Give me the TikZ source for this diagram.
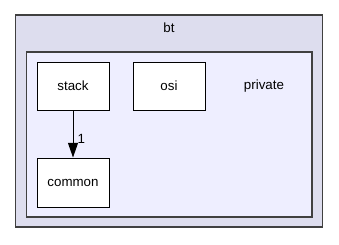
\documentclass[tikz,border=0pt]{standalone}
\usepackage{fontspec}
\setmainfont{Liberation Sans}
\usetikzlibrary{arrows.meta}
\definecolor{outerfill}{HTML}{DDDDEE}
\definecolor{innerfill}{HTML}{EEEEFF}
\definecolor{frame}{HTML}{404040}
\begin{document}
\begin{tikzpicture}[x=0.75pt,y=-0.75pt,
  cluster/.style={draw=frame,line width=0.9pt},
  lbl/.style={font=\fontsize{10}{12}\selectfont,inner sep=0pt},
  dirbox/.style={lbl,draw=black,fill=white,line width=0.75pt,
    minimum width=54pt,minimum height=36pt},
  dep/.style={draw=black,line width=0.75pt,-{Triangle[length=11pt,width=7.5pt]}}]
\useasboundingbox (0,0) rectangle (339,244);
% outer directory cluster
\draw[cluster,fill=outerfill] (15.5,15) rectangle (322.7,227);
\node[lbl] (bt) at (169,28) {bt};
% inner directory cluster
\draw[cluster,fill=innerfill] (26.5,52) rectangle (312,217);
\node[lbl] (private) at (264,86) {private};
% directory nodes
\node[dirbox] (stack) at (73,86) {stack};
\node[dirbox] (osi) at (169,86) {osi};
\node[dirbox,minimum height=36.75pt] (common) at (73,182.5) {common};
% dependency
\draw[dep] (stack) -- (common) node[lbl,pos=0.6,right=3pt] (n1) {1};
\end{tikzpicture}
\end{document}
